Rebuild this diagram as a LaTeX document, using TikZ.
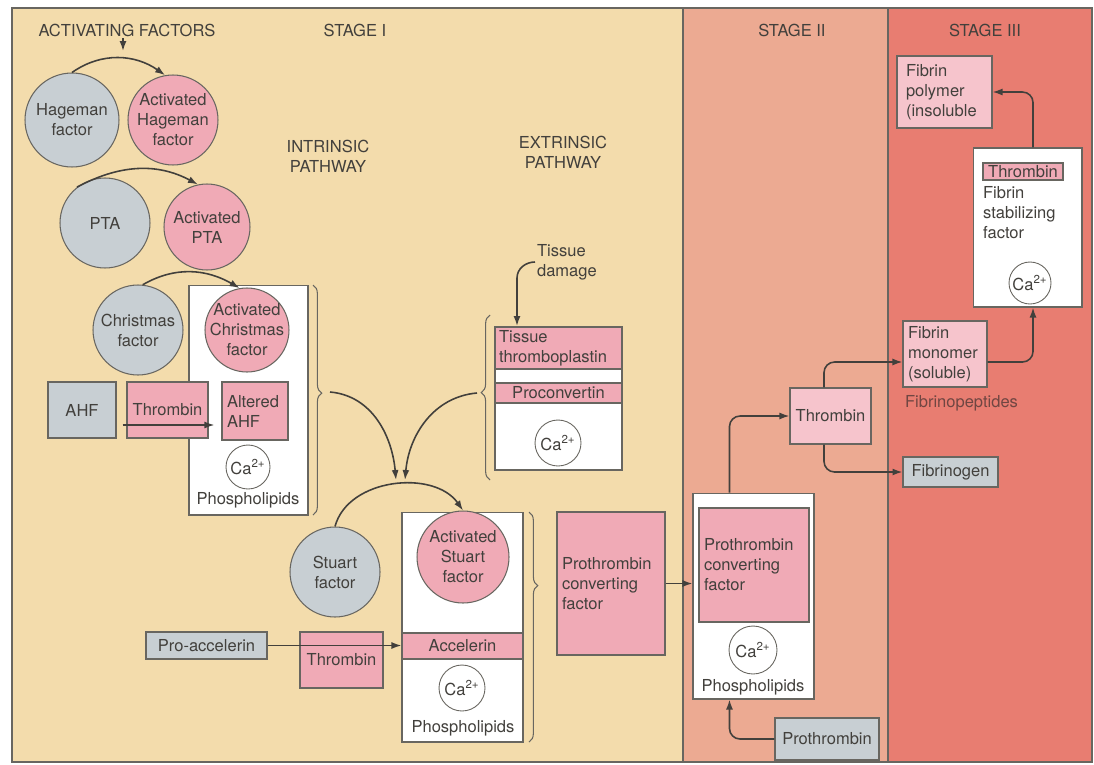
\documentclass[tikz,border=0pt]{standalone}
\usepackage{fontspec}
\setmainfont{TeX Gyre Heros}
\usetikzlibrary{arrows.meta,decorations.pathreplacing}
\tikzset{>={Latex[width=1.4mm,length=2mm]}}
\definecolor{cTan}{RGB}{243,220,172}
\definecolor{cTwo}{RGB}{236,170,146}
\definecolor{cThree}{RGB}{232,125,113}
\definecolor{gry}{RGB}{200,207,211}
\definecolor{pnk}{RGB}{240,170,182}
\definecolor{lpnk}{RGB}{246,196,204}
\definecolor{ink}{RGB}{66,64,60}
\definecolor{edge}{RGB}{104,102,96}
\definecolor{pep}{RGB}{112,70,66}

\begin{document}
\begin{tikzpicture}[x=0.02cm,y=0.02cm,font=\fontsize{9.4}{11.4}\selectfont,text=ink]
\tikzstyle{gc}=[circle,draw=edge,line width=0.6pt,fill=gry,minimum size=1.8cm]
\tikzstyle{pc}=[circle,draw=edge,line width=0.6pt,fill=pnk,minimum size=1.8cm]
\tikzstyle{gb}=[rectangle,draw=edge,line width=0.6pt,fill=gry,inner sep=0]
\tikzstyle{pb}=[rectangle,draw=edge,line width=0.6pt,fill=pnk,inner sep=0]
\tikzstyle{wb}=[rectangle,draw=edge,line width=0.6pt,fill=white,inner sep=0]
\tikzstyle{ca}=[circle,draw=edge,line width=0.5pt,fill=white,inner sep=0,minimum size=0.92cm]
\tikzstyle{lbl}=[inner sep=1pt,align=center]
\tikzstyle{ar}=[->,draw=ink,line width=0.9pt]
\tikzstyle{brc}=[draw=edge,line width=0.6pt,decorate]

    \useasboundingbox (0,0) rectangle (1094,-764);
    % stages
    \fill[cTan] (12,-8) rectangle (683,-762);
    \fill[cTwo] (683,-8) rectangle (888,-762);
    \fill[cThree] (888,-8) rectangle (1092,-762);
    \draw[edge,line width=0.6pt] (12,-8) rectangle (1092,-762) (683,-8) -- (683,-762) (888,-8) -- (888,-762);

    \node[lbl] (actf) at (127,-30) {ACTIVATING FACTORS};
    \node[lbl] (st1) at (355,-30) {STAGE I};
    \node[lbl] (st2) at (792,-30) {STAGE II};
    \node[lbl] (st3) at (985,-30) {STAGE III};
    \node[lbl] (intr) at (328,-156) {INTRINSIC\\PATHWAY};
    \node[lbl] (extr) at (563,-152) {EXTRINSIC\\PATHWAY};

    % intrinsic pathway
    \node[gc,minimum size=1.88cm,label={[align=center]center:Hageman\\factor}] (hag) at (72,-120) {};
    \node[pc,label={[align=center]center:Activated\\Hageman\\factor}] (ahag) at (173,-120) {};
    \node[gc,label={center:PTA}] (pta) at (105,-223) {};
    \node[pc,minimum size=1.72cm,label={[align=center]center:Activated\\PTA}] (apta) at (207,-227) {};
    \node[wb,minimum width=2.38cm,minimum height=4.6cm] (ibox) at (248.5,-400) {};
    \node[gc,label={[align=center]center:Christmas\\factor}] (chr) at (138,-330) {};
    \node[pc,minimum size=1.68cm,label={[align=center]center:Activated\\Christmas\\factor}] (achr) at (247,-330) {};
    \node[gb,minimum width=1.36cm,minimum height=1.12cm] (ahf) at (82,-410) {AHF};
    \node[pb,minimum width=1.62cm,minimum height=1.12cm] (thr1) at (167.5,-410) {Thrombin};
    \node[pb,minimum width=1.32cm,minimum height=1.16cm,text width=1.12cm,inner xsep=0.1cm,align=left] (aahf) at (255,-411) {Altered\\AHF};
    \node[ca,minimum size=0.88cm] (ca1) at (248,-467) {Ca\textsuperscript{2+}};
    \node[lbl] (ph1) at (248,-500) {Phospholipids};
    \draw[brc,decoration={brace,amplitude=5pt,aspect=0.47}] (313,-285) -- (313,-515);
    \coordinate (b1) at (330,-392);

    % extrinsic pathway
    \node[lbl,anchor=west,align=left] (td) at (535,-262) {Tissue\\damage};
    \node[wb,minimum width=2.54cm,minimum height=2.86cm] (ebox) at (558.5,-398.5) {};
    \node[pb,minimum width=2.54cm,minimum height=0.84cm,text width=2.38cm,inner xsep=0.08cm,align=left] (tt) at (558.5,-348) {Tissue\\thromboplastin};
    \node[pb,minimum width=2.54cm,minimum height=0.4cm] (pcv) at (558.5,-393) {Proconvertin};
    \node[ca] (ca2) at (558,-443) {Ca\textsuperscript{2+}};
    \draw[brc,decoration={brace,amplitude=5pt,aspect=0.53}] (490,-480) -- (490,-315);
    \coordinate (b2) at (477,-393);
    \coordinate (m1) at (396,-480);
    \coordinate (m2) at (405,-480);
    \coordinate (a0) at (123,-51);

    % Stuart factor
    \node[gc,label={[align=center]center:Stuart\\factor}] (stu) at (335,-572) {};
    \node[wb,minimum width=2.42cm,minimum height=4.6cm] (sbox) at (462.5,-627) {};
    \node[pc,minimum size=1.84cm,label={[align=center]center:Activated\\Stuart\\factor}] (astu) at (463,-557) {};
    \node[pb,minimum width=2.42cm,minimum height=0.52cm] (acc) at (462.5,-646) {Accelerin};
    \node[ca] (ca3) at (462,-688) {Ca\textsuperscript{2+}};
    \node[lbl] (ph2) at (463,-728) {Phospholipids};
    \node[gb,minimum width=2.42cm,minimum height=0.54cm] (pacc) at (206.5,-645.5) {Pro-accelerin};
    \node[pb,minimum width=1.66cm,minimum height=1.12cm] (thr2) at (341.5,-660) {Thrombin};
    \draw[brc,decoration={brace,amplitude=5pt,aspect=0.32}] (529,-512) -- (529,-742);
    \node[pb,minimum width=2.16cm,minimum height=2.86cm,text width=1.96cm,inner xsep=0.1cm,align=left] (pcf1) at (611,-583.5) {Prothrombin\\converting\\factor};

    % stage II
    \node[wb,minimum width=2.42cm,minimum height=4.12cm] (pbox) at (753.5,-596) {};
    \node[pb,minimum width=2.2cm,minimum height=2.28cm,text width=2.0cm,inner xsep=0.1cm,align=left] (pcf2) at (754,-565) {Prothrombin\\converting\\factor};
    \node[ca,minimum size=0.96cm] (ca4) at (753,-650) {Ca\textsuperscript{2+}};
    \node[lbl] (ph3) at (753,-687) {Phospholipids};
    \node[gb,minimum width=2.08cm,minimum height=0.84cm] (pth) at (827,-739) {Prothrombin};
    \node[pb,fill=lpnk,minimum width=1.62cm,minimum height=1.12cm] (thr3) at (830.5,-416) {Thrombin};

    % stage III
    \node[pb,fill=lpnk,minimum width=1.68cm,minimum height=1.32cm,text width=1.48cm,inner xsep=0.1cm,align=left] (fmon) at (945,-354) {Fibrin\\monomer\\(soluble)};
    \node[lbl,anchor=west,text=pep] (fpep) at (903,-403) {Fibrinopeptides};
    \node[gb,minimum width=1.9cm,minimum height=0.6cm] (fgen) at (950.5,-472) {Fibrinogen};
    \node[wb,minimum width=2.18cm,minimum height=3.18cm] (fbox) at (1027.5,-227.5) {};
    \node[pb,minimum width=1.6cm,minimum height=0.34cm] (thr4) at (1023,-171.5) {Thrombin};
    \node[lbl,anchor=west,align=left] (fsf) at (981,-213) {Fibrin\\stabilizing\\factor};
    \node[ca,minimum size=0.84cm] (ca5) at (1030,-283) {Ca\textsuperscript{2+}};
    \node[pb,fill=lpnk,minimum width=1.9cm,minimum height=1.44cm,text width=1.54cm,inner xsep=0.18cm,align=left] (fpol) at (944.5,-92) {Fibrin\\polymer\\(insoluble};

    % arrows
    \draw[ar] (actf.south -| a0) -- (a0);
    \draw[ar] (hag.north) to[out=35,in=145] (ahag.100);
    \draw[ar] (pta.128) to[out=28,in=152] (apta.102);
    \draw[ar] (chr.84) to[out=30,in=150] (achr.100);
    \draw[ar,shorten >=4pt] ([shift={(0.12cm,-0.3cm)}]ahf.east) coordinate (c1) -- (c1 -| aahf.west);
    \draw[ar] (td.west) to[out=180,in=90] ++(-18,-16) -- ++(0,-48);
    \draw[ar] (b1) to[out=-5,in=95] (m1);
    \draw[ar] (b2) to[out=185,in=85] (m2);
    \draw[ar] (stu.north) to[out=75,in=125] (astu.north);
    \draw[ar] (pacc.east) -- (pacc.east -| sbox.west);
    \draw[ar] (pcf1.east) -- (pcf1.east -| pbox.west);
    \draw[ar,rounded corners=6pt] (pth.west) -| ([xshift=0.74cm]pbox.south west);
    \draw[ar,rounded corners=6pt] ([xshift=0.74cm]pbox.north west) |- (thr3.west);
    \draw[ar,rounded corners=6pt] ([xshift=-0.13cm]thr3.north) |- ([yshift=-0.16cm]fmon.west);
    \draw[ar,rounded corners=6pt] ([xshift=-0.13cm]thr3.south) |- (fgen.west);
    \draw[ar,rounded corners=6pt] ([yshift=-0.16cm]fmon.east) -| ([xshift=0.11cm]fbox.south);
    \draw[ar,rounded corners=6pt] ([xshift=0.11cm]fbox.north) |- (fpol.east);

\end{tikzpicture}
\end{document}
